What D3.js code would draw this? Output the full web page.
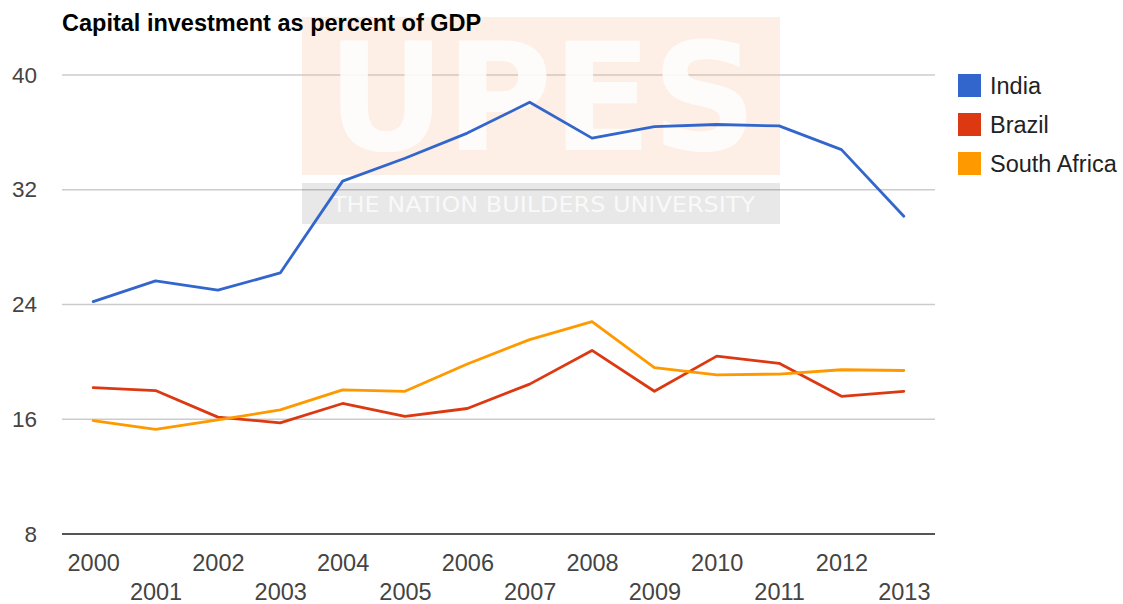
<!DOCTYPE html>
<html>
<head>
<meta charset="utf-8">
<script src="https://cdn.jsdelivr.net/npm/d3@7"></script>
<style>
  html, body { margin: 0; padding: 0; background: #fff; }
  svg { display: block; font-family: "Liberation Sans", Arial, sans-serif; }
</style>
</head>
<body>
<svg id="chart" width="1123" height="604"></svg>
<script>
// Capital investment (gross capital formation) as % of GDP
const years = ["2000","2001","2002","2003","2004","2005","2006","2007","2008","2009","2010","2011","2012","2013"];
const india = [24.2, 25.65, 25.0, 26.2, 32.6, 34.2, 35.95, 38.1, 35.6, 36.4, 36.55, 36.45, 34.8, 30.15];
const brazil = [18.2, 18.0, 16.15, 15.75, 17.1, 16.2, 16.75, 18.45, 20.8, 17.95, 20.4, 19.9, 17.6, 17.95];
const southAfrica = [15.9, 15.3, 15.95, 16.65, 18.05, 17.95, 19.85, 21.55, 22.8, 19.6, 19.1, 19.15, 19.45, 19.4];
const seriesNames = ["India", "Brazil", "South Africa"];
const seriesColors = ["#3366cc", "#dc3912", "#ff9900"];
const yTicks = [8, 16, 24, 32, 40];
const titleText = "Capital investment as percent of GDP";

const series = [india, brazil, southAfrica].map((vals, i) => ({
  name: seriesNames[i], color: seriesColors[i],
  points: vals.map((v, j) => ({ year: years[j], value: v }))
}));

const svg = d3.select("#chart");
const plot = { left: 62, right: 935, top: 75, bottom: 534 };

const x = d3.scalePoint().domain(years).range([plot.left, plot.right]).padding(0.5);
const y = d3.scaleLinear().domain([8, 40]).range([plot.bottom, plot.top]);

// horizontal gridlines
svg.append("g").selectAll("line")
  .data(yTicks.filter(t => t !== 8))
  .join("line")
  .attr("x1", plot.left).attr("x2", plot.right)
  .attr("y1", d => y(d)).attr("y2", d => y(d))
  .attr("stroke", "#cccccc").attr("stroke-width", 1.6);

// university watermark over the gridlines
const wm = svg.append("g");
wm.append("rect")
  .attr("x", 302).attr("y", 17).attr("width", 478).attr("height", 158)
  .attr("fill", "#f5b888").attr("opacity", 0.22);
wm.append("text")
  .attr("x", 327).attr("y", 150)
  .attr("font-family", "DejaVu Sans, sans-serif").attr("font-weight", "bold")
  .attr("font-size", 150)
  .attr("textLength", 430).attr("lengthAdjust", "spacingAndGlyphs")
  .attr("fill", "#fff").attr("opacity", 0.85)
  .text("UPES");
wm.append("rect")
  .attr("x", 302).attr("y", 183).attr("width", 478).attr("height", 41)
  .attr("fill", "#000").attr("opacity", 0.09);
wm.append("text")
  .attr("x", 332).attr("y", 212)
  .attr("font-family", "DejaVu Sans, sans-serif")
  .attr("font-size", 21)
  .attr("textLength", 423).attr("lengthAdjust", "spacingAndGlyphs")
  .attr("fill", "#fff").attr("opacity", 0.75)
  .text("THE NATION BUILDERS UNIVERSITY");

// title
svg.append("text")
  .attr("x", 62).attr("y", 31)
  .attr("font-size", 23.5).attr("font-weight", "bold").attr("fill", "#000")
  .text(titleText);

// y axis labels
const yAxis = d3.axisLeft(y).tickValues(yTicks).tickSize(0).tickPadding(0);
const gy = svg.append("g").attr("transform", "translate(37,0)").call(yAxis);
gy.select(".domain").remove();
gy.selectAll("text")
  .attr("font-size", 22.5).attr("fill", "#444")
  .attr("font-family", "Liberation Sans, Arial, sans-serif");

// x axis labels, two staggered rows
const xAxis = d3.axisBottom(x).tickSize(0).tickPadding(0);
const gx = svg.append("g").attr("transform", `translate(0,${plot.bottom})`).call(xAxis);
gx.select(".domain").remove();
gx.selectAll("text")
  .attr("font-size", 23.5).attr("fill", "#444")
  .attr("font-family", "Liberation Sans, Arial, sans-serif")
  .attr("dy", null)
  .attr("y", (d, i) => i % 2 === 0 ? 37 : 66);

// lines
const line = d3.line().x(d => x(d.year)).y(d => y(d.value));
svg.append("g").selectAll("path")
  .data(series)
  .join("path")
  .attr("d", d => line(d.points))
  .attr("fill", "none")
  .attr("stroke", d => d.color)
  .attr("stroke-width", 2.8)
  .attr("stroke-linejoin", "round")
  .attr("stroke-linecap", "round");

// baseline
svg.append("line")
  .attr("x1", plot.left).attr("x2", plot.right)
  .attr("y1", y(8)).attr("y2", y(8))
  .attr("stroke", "#555").attr("stroke-width", 2);

// legend
const legend = svg.append("g").selectAll("g")
  .data(series)
  .join("g")
  .attr("transform", (d, i) => `translate(958,${85.5 + i * 39})`);
legend.append("rect")
  .attr("x", 0).attr("y", -11.5).attr("width", 23).attr("height", 23)
  .attr("fill", d => d.color);
legend.append("text")
  .attr("x", 32).attr("y", 8.5)
  .attr("font-size", 23.5).attr("fill", "#222")
  .text(d => d.name);
</script>
</body>
</html>
